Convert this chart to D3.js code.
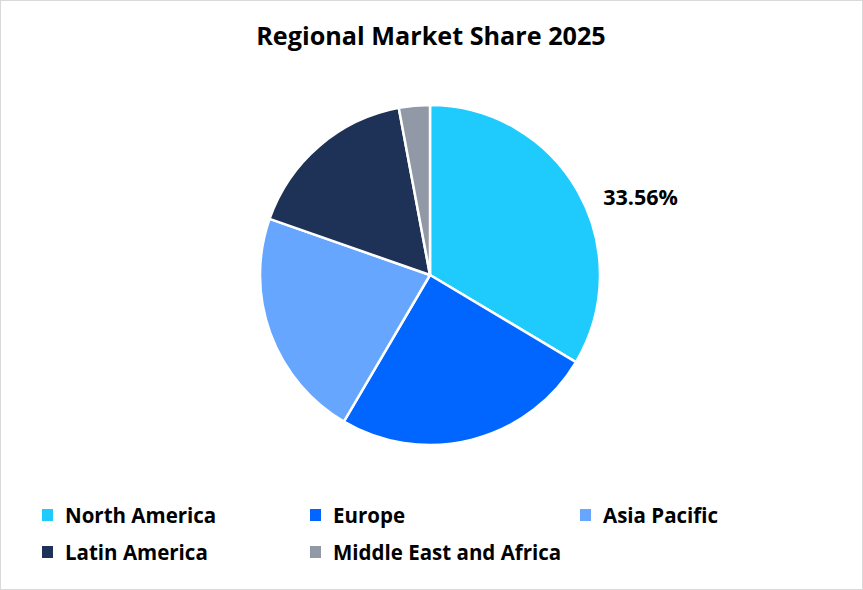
<!DOCTYPE html>
<html><head><meta charset="utf-8">
<script src="https://cdn.jsdelivr.net/npm/d3@7"></script>
<style>body{margin:0;background:#fff}svg{display:block}text{font-family:"Open Sans",Lato,sans-serif;font-weight:700;fill:#000}</style>
</head><body><svg id="c" width="863" height="590"></svg>
<script>
const title = "Regional Market Share 2025";
const categories = ["North America","Europe","Asia Pacific","Latin America","Middle East and Africa"];
const shares = [33.56, 24.9, 21.9, 16.7, 2.94];
const colors = ["#1ECBFC","#0066FF","#66A6FF","#1E3157","#9199A6"];
const labelled = ["North America"];

const svg = d3.select("#c");
svg.append("rect").attr("x",0.5).attr("y",0.5).attr("width",862).attr("height",589)
  .attr("fill","#fff").attr("stroke","#d9d9d9");
svg.append("text").attr("x",431).attr("y",45).attr("text-anchor","middle")
  .style("font-size","25.2px").text(title);

const cx=430, cy=275, r=170;
const data = categories.map((c,i)=>({cat:c,value:shares[i],color:colors[i]}));
const pie = d3.pie().value(d=>d.value).sort(null);
const arc = d3.arc().innerRadius(0).outerRadius(r);
const g = svg.append("g").attr("transform",`translate(${cx},${cy})`);
const arcs = pie(data);
g.selectAll("path").data(arcs).enter().append("path")
  .attr("d",arc).attr("fill",d=>d.data.color).attr("stroke","#fff").attr("stroke-width",2.5);
const labelArc = d3.arc().innerRadius(r+12).outerRadius(r+12);
g.selectAll("text.lbl").data(arcs.filter(d=>labelled.includes(d.data.cat))).enter().append("text")
  .attr("class","lbl")
  .attr("x",d=>labelArc.centroid(d)[0]+15)
  .attr("y",d=>labelArc.centroid(d)[1]+20)
  .style("font-size","21.5px")
  .text(d=>d.data.value.toFixed(2)+"%");

const colX=[42,310,580], rowY=[515,552];
const lg = svg.append("g");
data.forEach((d,i)=>{
  const x=colX[i%3], y=rowY[Math.floor(i/3)];
  lg.append("rect").attr("x",x).attr("y",y-6).attr("width",11).attr("height",12).attr("fill",d.color);
  lg.append("text").attr("x",x+23).attr("y",y+7.5).style("font-size","20.5px").text(d.cat);
});
</script></body></html>
